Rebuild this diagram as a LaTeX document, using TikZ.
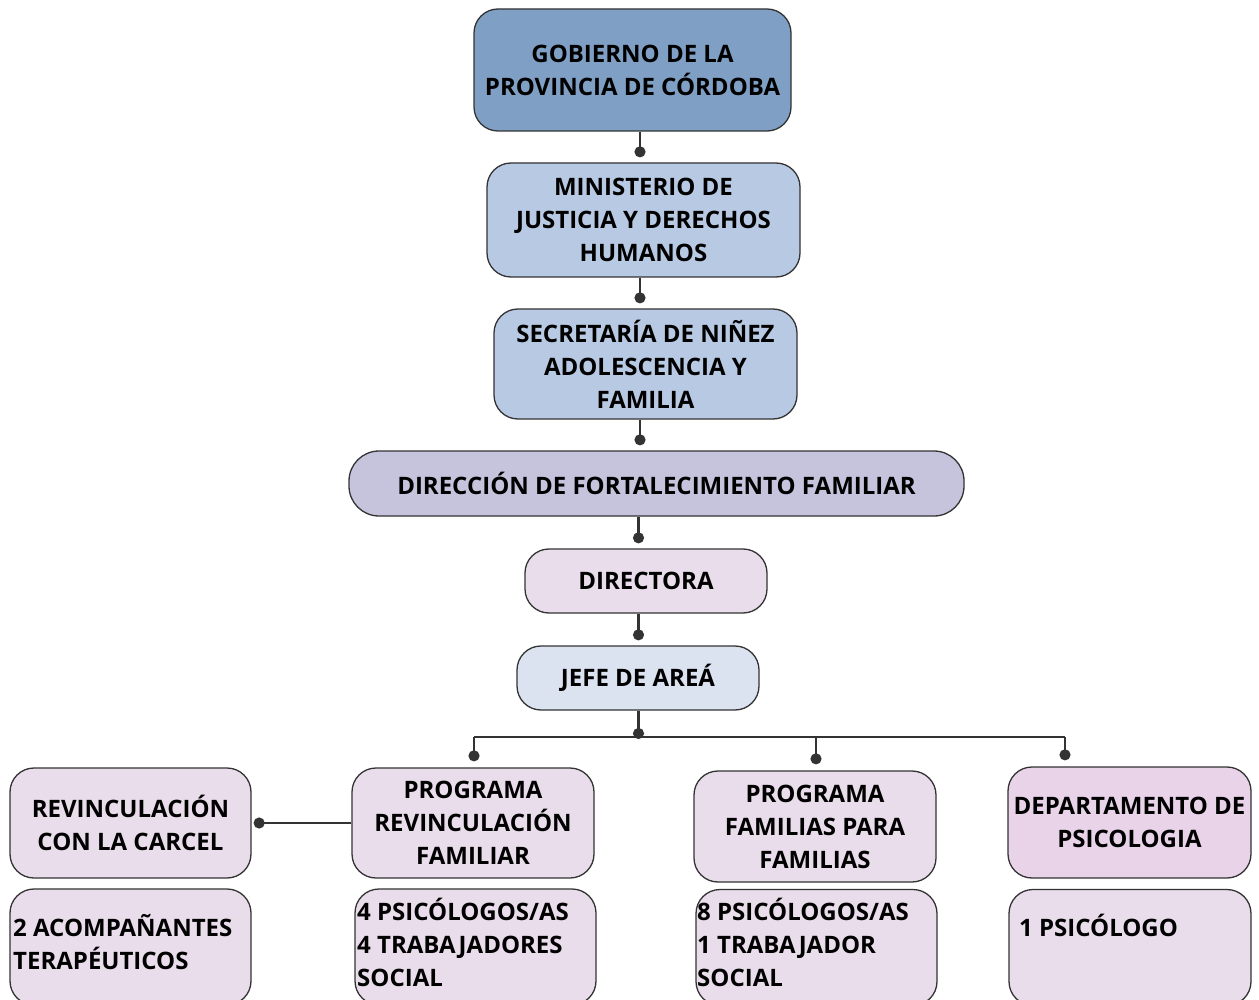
\documentclass[tikz,border=0pt]{standalone}
\usepackage{fontspec}
\setmainfont{Open Sans}
\usetikzlibrary{arrows.meta}
\definecolor{cgob}{HTML}{7F9FC5}
\definecolor{cmin}{HTML}{B8C9E3}
\definecolor{cdir}{HTML}{C6C3DD}
\definecolor{cpink}{HTML}{EADDEB}
\definecolor{cjefe}{HTML}{DCE3F0}
\definecolor{cdep}{HTML}{E9D3E9}
\definecolor{cline}{HTML}{333333}
\begin{document}
\begin{tikzpicture}[x=1pt,y=-1pt,
  box/.style={draw=cline, line width=1.3pt, rounded corners=24pt, align=center,
    font=\fontsize{24}{33}\selectfont\bfseries, inner sep=0pt},
  txt/.style={align=left, inner sep=0pt, anchor=west,
    font=\fontsize{24}{33}\selectfont\bfseries},
  conn/.style={draw=cline, line width=2.4pt, -{Circle[length=11pt]}},
  bus/.style={draw=cline, line width=2.4pt}]
\useasboundingbox (0,0) rectangle (1259,1000);
\fill[white] (0,0) rectangle (1259,1000);
% main chain
\node[box, fill=cgob, minimum width=317pt, minimum height=122pt] (g) at (632.5,70) {GOBIERNO DE LA\\PROVINCIA DE CÓRDOBA};
\node[box, fill=cmin, minimum width=313pt, minimum height=114pt] (m) at (643.5,220) {MINISTERIO DE\\JUSTICIA Y DERECHOS\\HUMANOS};
\node[box, fill=cmin, minimum width=303pt, minimum height=110pt] (s) at (645.5,364) {SECRETARÍA DE NIÑEZ\\ADOLESCENCIA Y\\FAMILIA};
\node[box, fill=cdir, minimum width=615pt, minimum height=65pt, rounded corners=30pt] (d) at (656.5,483.5) {DIRECCIÓN DE FORTALECIMIENTO FAMILIAR};
\node[box, fill=cpink, minimum width=242pt, minimum height=64pt] (dir) at (646,581) {DIRECTORA};
\node[box, fill=cjefe, minimum width=242pt, minimum height=64pt] (j) at (638,678) {JEFE DE AREÁ};
% programs
\node[box, fill=cpink, minimum width=241pt, minimum height=110pt] (r) at (130.5,823) {REVINCULACIÓN\\CON LA CARCEL};
\node[box, fill=cpink, minimum width=242pt, minimum height=110pt] (p1) at (473,823) {PROGRAMA\\REVINCULACIÓN\\FAMILIAR};
\node[box, fill=cpink, minimum width=242pt, minimum height=111pt] (p2) at (815,826.5) {PROGRAMA\\FAMILIAS PARA\\FAMILIAS};
\node[box, fill=cdep, minimum width=243pt, minimum height=111pt] (dp) at (1129.5,822.5) {DEPARTAMENTO DE\\PSICOLOGIA};
% staff boxes
\node[box, fill=cpink, minimum width=241pt, minimum height=116pt] (b1) at (130.5,947) {};
\node[box, fill=cpink, minimum width=241pt, minimum height=116pt] (b2) at (475.5,947) {};
\node[box, fill=cpink, minimum width=241pt, minimum height=116pt] (b3) at (816.5,947.5) {};
\node[box, fill=cpink, minimum width=242pt, minimum height=116pt] (b4) at (1130,947.5) {};
\node[txt] (t1) at (13,942) {2 ACOMPAÑANTES\\TERAPÉUTICOS};
\node[txt] (t2) at (357,942) {4 PSICÓLOGOS/AS\\4 TRABAJADORES\\SOCIAL};
\node[txt] (t3) at (697,942) {8 PSICÓLOGOS/AS\\1 TRABAJADOR\\SOCIAL};
\node[txt] (t4) at (1019,925) {1 PSICÓLOGO};
% connectors
\coordinate (trunk) at (640,0);
\coordinate (trunkb) at (638.5,0);
\draw[conn] (g.south -| trunk) -- ([yshift=5pt]m.north -| trunk);
\draw[conn] (m.south -| trunk) -- ([yshift=5pt]s.north -| trunk);
\draw[conn] (s.south -| trunk) -- ([yshift=5pt]d.north -| trunk);
\draw[conn] (d.south -| trunkb) -- ([yshift=5pt]dir.north -| trunkb);
\draw[conn] (dir.south -| trunkb) -- ([yshift=5pt]j.north -| trunkb);
\coordinate (busL) at (474,737);
\coordinate (busM) at (816,737);
\coordinate (busR) at (1065,737);
\draw[bus] (busL) -- (busR);
\draw[conn] (j.south -| trunkb) -- ([yshift=-2pt]busL -| trunkb);
\draw[conn] (busL) -- ([yshift=6pt]p1.north -| busL);
\draw[conn] (busM) -- ([yshift=6pt]p2.north -| busM);
\draw[conn] (busR) -- ([yshift=6pt]dp.north -| busR);
\draw[conn] (p1.west) -- ([xshift=2pt]r.east);
\end{tikzpicture}
\end{document}
